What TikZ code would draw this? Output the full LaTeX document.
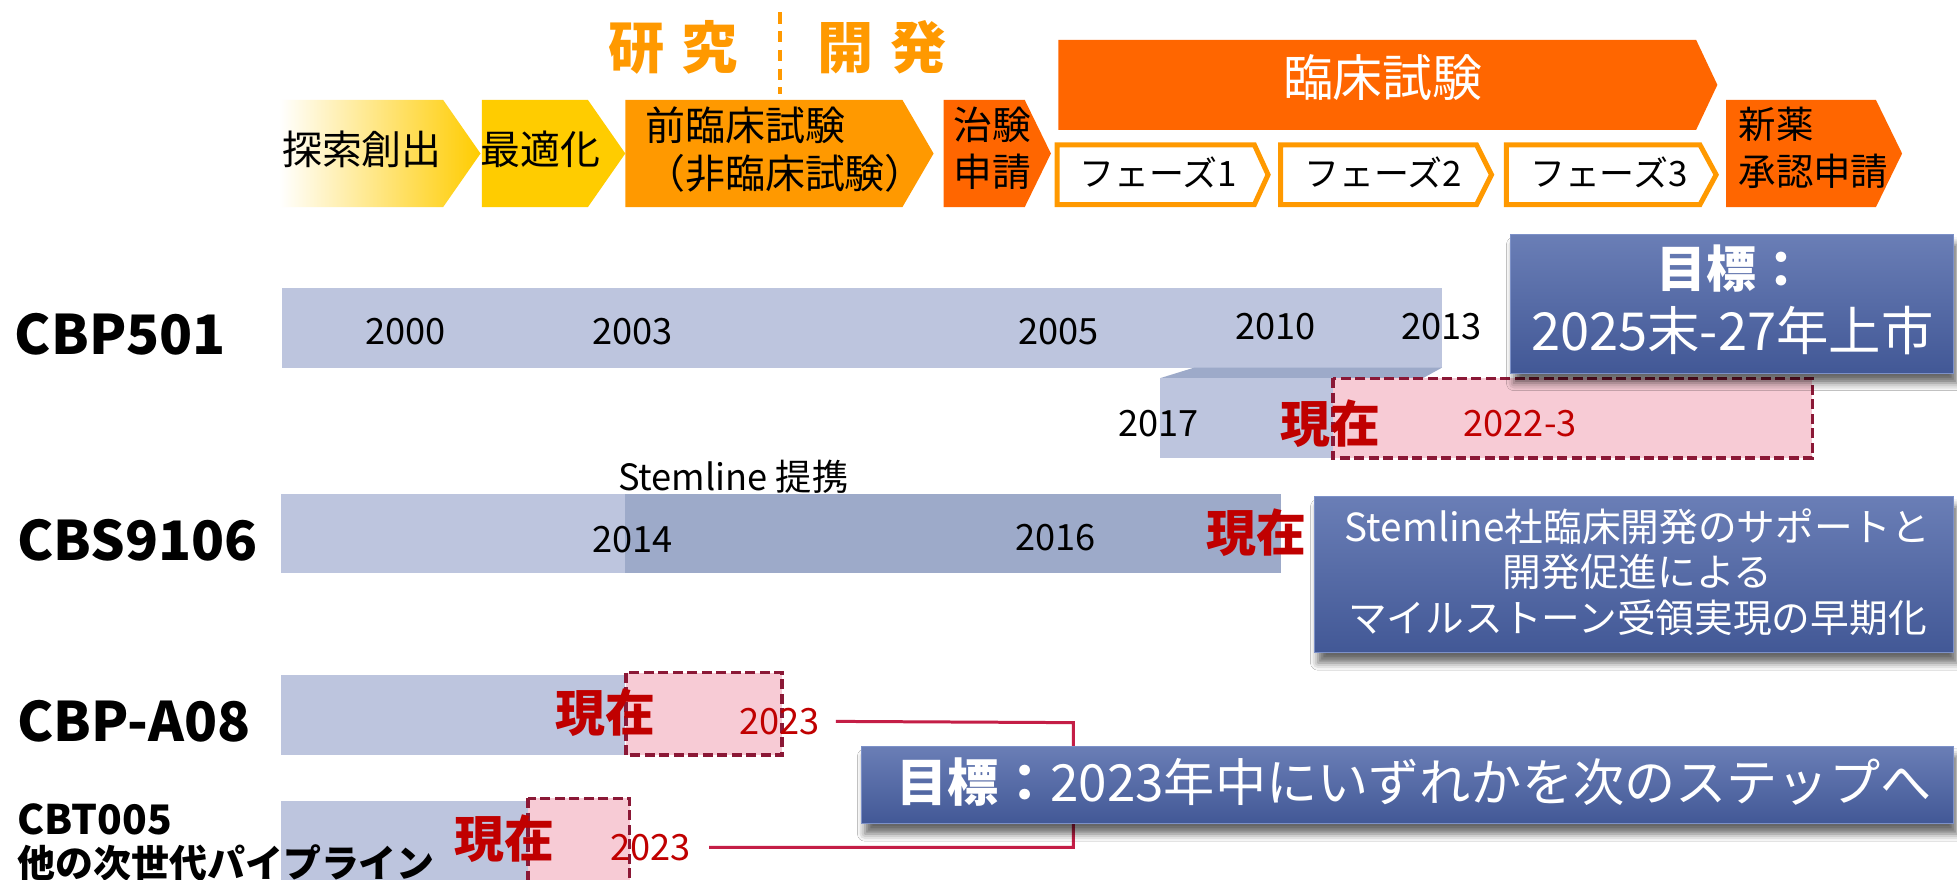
\documentclass[tikz,border=0pt]{standalone}
\usepackage{fontspec}
\setmainfont{Noto Sans CJK JP}
\usetikzlibrary{shadows.blur}
\definecolor{orA}{RGB}{255,153,0}
\definecolor{orB}{RGB}{255,102,0}
\definecolor{goldY}{RGB}{255,204,0}
\definecolor{barL}{RGB}{189,197,222}
\definecolor{barD}{RGB}{157,170,201}
\definecolor{pinkF}{RGB}{247,203,213}
\definecolor{maroonD}{RGB}{139,24,54}
\definecolor{redT}{RGB}{192,0,0}
\definecolor{brk}{RGB}{196,30,70}
\definecolor{boxT}{RGB}{106,126,182}
\definecolor{boxB}{RGB}{66,88,150}
\definecolor{boxE}{RGB}{125,145,200}
\newcommand\fz[1]{\fontsize{#1}{#1}\selectfont}
\begin{document}
\begin{tikzpicture}[x=0.5pt,y=-0.5pt,every node/.style={inner sep=0pt,outer sep=0pt}]
\tikzset{
  lbl/.style={font=\bfseries\fz{21.8pt},anchor=west},
  yr/.style={font=\fz{14.5pt}},
  ryr/.style={font=\fz{14.5pt},text=redT},
  now/.style={font=\bfseries\fz{20pt},text=redT},
  cht/.style={font=\fz{16pt}},
  phasebox/.style={draw=orA,fill=white,line width=2pt},
  pinkbox/.style={fill=pinkF,draw=maroonD,line width=1.3pt,dash pattern=on 4pt off 1.8pt},
  bluebox/.style={top color=boxT,bottom color=boxB,draw=boxE,line width=0.5pt,
     blur shadow={shadow xshift=1.5pt,shadow yshift=-4pt,shadow blur radius=3pt,shadow opacity=60}},
  bracket/.style={draw=brk,line width=1.2pt},
}
\useasboundingbox (0,0) rectangle (1568,705);
\clip (0,0) rectangle (1568,705);
\fill[white] (0,0) rectangle (1568,705);

% ---------- top header ----------
\node[font=\bfseries\fz{22.5pt},text=orA] (kenkyu) at (539,38) {研\hspace{0.3em}究};
\node[font=\bfseries\fz{22.5pt},text=orA] (kaihatsu) at (707,38) {開\hspace{0.3em}発};
\coordinate (dvA) at (625,10);
\coordinate (dvB) at (625,75);
\draw[orA,line width=1.5pt,dash pattern=on 4.5pt off 3pt] (dvA) -- (dvB);

% chevrons
\shade[left color=white,right color=goldY] (224,80) -- (355,80) -- (385,123) -- (355,166) -- (224,166) -- cycle;
\fill[goldY] (386,80) -- (471,80) -- (501,123) -- (471,166) -- (386,166) -- cycle;
\fill[orA] (501,80) -- (723,80) -- (748,123) -- (723,166) -- (501,166) -- cycle;
\fill[orB] (756,80) -- (821,80) -- (842,123) -- (821,166) -- (756,166) -- cycle;
\fill[orB] (848,32) -- (1359,32) -- (1376,68) -- (1359,104) -- (848,104) -- cycle;
\fill[orB] (1383,80) -- (1503,80) -- (1524,123) -- (1503,166) -- (1383,166) -- cycle;
\draw[phasebox] (847,116) -- (1005,116) -- (1016,140) -- (1005,164) -- (847,164) -- cycle;
\draw[phasebox] (1026,116) -- (1183,116) -- (1195,140) -- (1183,164) -- (1026,164) -- cycle;
\draw[phasebox] (1207,116) -- (1362,116) -- (1375,140) -- (1362,164) -- (1207,164) -- cycle;

\node[cht] (tanSaku) at (290,120) {探索創出};
\node[cht] (saiteki) at (433,120) {最適化};
\node[cht,anchor=west] (zenrinA) at (517,100) {前臨床試験};
\node[cht,anchor=west] (zenrinB) at (517,139) {（非臨床試験）};
\node[font=\fz{15.5pt},anchor=west] (chikenA) at (764,100) {治験};
\node[font=\fz{15.5pt},anchor=west] (chikenB) at (764,138) {申請};
\node[font=\fz{20pt},text=white] (rinsho) at (1108,62) {臨床試験};
\node[font=\fz{14pt}] (ph1) at (928,138) {フェーズ1};
\node[font=\fz{14pt}] (ph2) at (1108,138) {フェーズ2};
\node[font=\fz{14pt}] (ph3) at (1289,138) {フェーズ3};
\node[font=\fz{15pt},anchor=west] (shinA) at (1393,100) {新薬};
\node[font=\fz{15pt},anchor=west] (shinB) at (1393,137) {承認申請};

% ---------- bars ----------
\fill[barL] (226,231) rectangle (1155.5,294.5);
\fill[barD] (929.5,303) -- (957,294.5) -- (1155.5,294.5) -- (1140,303) -- cycle;
\fill[barL] (929.5,303) rectangle (1068,367);
\draw[pinkbox] (1068,303) rectangle (1452,367);

\fill[barL] (225,396) rectangle (500.5,459);
\fill[barD] (500.5,396) rectangle (1026.5,459);

\fill[barL] (225,541) rectangle (500.5,605);
\draw[pinkbox] (501.5,539) rectangle (626.5,605);

\fill[barL] (225,642) rectangle (423,712);
\draw[pinkbox] (423,639.5) rectangle (504.5,712);

% ---------- labels ----------
\node[lbl] (cbp501) at (12,267.5) {CBP501};
\node[lbl] (cbs9106) at (14,433) {CBS9106};
\node[lbl] (cbpa08) at (14,578) {CBP-A08};
\node[font=\bfseries\fz{16.3pt},anchor=west] (cbt005) at (14,656.5) {CBT005};
\node[font=\bfseries\fz{15.2pt},anchor=west] (others) at (14,691) {他の次世代パイプライン};

% years
\node[yr] (y2000) at (325,266) {2000};
\node[yr] (y2003) at (507,266) {2003};
\node[yr] (y2005) at (848,266) {2005};
\node[yr] (y2010) at (1022,262) {2010};
\node[yr] (y2013) at (1155,262) {2013};
\node[yr] (y2017) at (928,339) {2017};
\node[ryr] (y2022) at (1218,339) {2022-3};
\node[now] (nowA) at (1066,339.5) {現在};

\node[font=\fz{14.5pt}] (stemline) at (587.5,382) {Stemline 提携};
\node[yr] (y2014) at (507,432) {2014};
\node[yr] (y2016) at (846,431) {2016};
\node[now] (nowB) at (1007,427) {現在};

\node[now] (nowC) at (485,571) {現在};
\node[ryr] (y2023a) at (624.5,578) {2023};
\node[now] (nowD) at (404,672) {現在};
\node[ryr] (y2023b) at (521,679) {2023};

% bracket
\coordinate (bk) at (860,579);
\draw[bracket] ([xshift=6.5pt]y2023a.east) -- (bk) |- ([xshift=7.5pt]y2023b.east);

% ---------- blue boxes ----------
\path[bluebox] (1210,188) rectangle (1565,299);
\node[font=\bfseries\fz{20pt},text=white] (goalA1) at (1387,215.5) {目標：};
\node[font=\fz{21pt},text=white] (goalA2) at (1388,265) {2025末-27年上市};

\path[bluebox] (1053,398) rectangle (1565,523);
\node[font=\fz{15.5pt},text=white] (stA) at (1312,422) {Stemline社臨床開発のサポートと};
\node[font=\fz{15.5pt},text=white] (stB) at (1312,458) {開発促進による};
\node[font=\fz{15.5pt},text=white] (stC) at (1312,495) {マイルストーン受領実現の早期化};

\path[bluebox] (690,598) rectangle (1565,660);
\node[font=\fz{20.5pt},text=white] (goalB) at (1133,627) {{\bfseries 目標：}2023年中にいずれかを次のステップへ};
\end{tikzpicture}
\end{document}
